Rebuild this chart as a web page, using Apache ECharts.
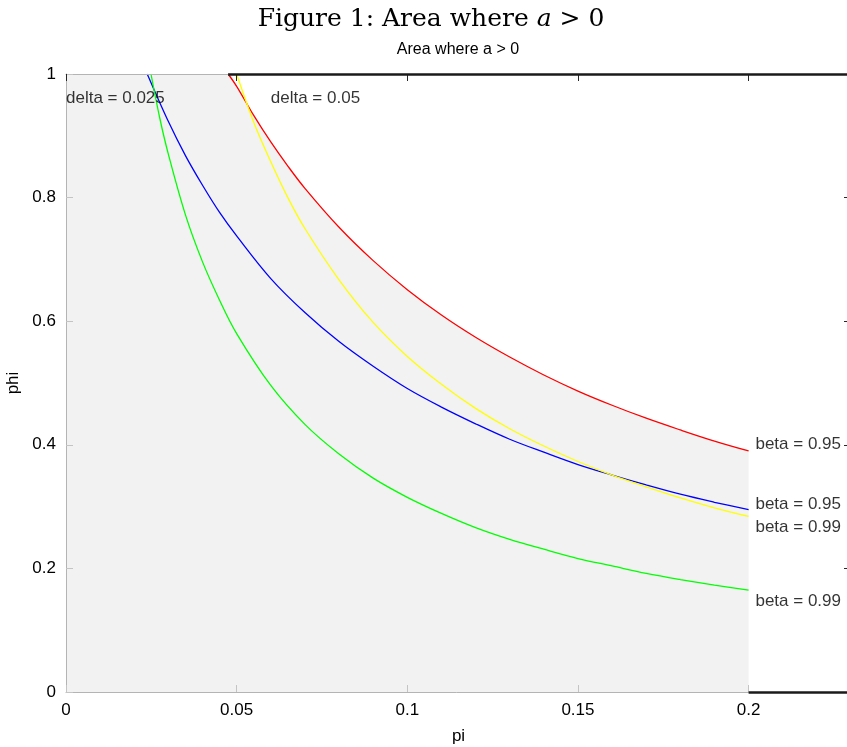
<!DOCTYPE html>
<html>
<head>
<meta charset="utf-8">
<script src="https://cdn.jsdelivr.net/npm/echarts@6/dist/echarts.min.js"></script>
<style>
  html, body { margin: 0; padding: 0; background: #fff; }
  #main { width: 847px; height: 747px; }
</style>
</head>
<body>
<div id="main"></div>
<script>
var dom = document.getElementById('main');
var myChart = echarts.init(dom, null, { renderer: 'canvas' });

// pi values and phi values, one pair of arrays per curve
var redX = [0.0475, 0.05, 0.055, 0.06, 0.065, 0.07, 0.08, 0.09, 0.10, 0.11, 0.12, 0.13, 0.14, 0.15, 0.16, 0.17, 0.18, 0.19, 0.20];
var redY = [1.0, 0.980, 0.933, 0.890, 0.851, 0.815, 0.752, 0.698, 0.651, 0.610, 0.574, 0.542, 0.513, 0.487, 0.464, 0.443, 0.424, 0.406, 0.390];

var blueX = [0.0238, 0.03, 0.035, 0.04, 0.045, 0.05, 0.06, 0.07, 0.08, 0.09, 0.10, 0.11, 0.12, 0.13, 0.14, 0.15, 0.16, 0.17, 0.18, 0.19, 0.20];
var blueY = [1.0, 0.923, 0.868, 0.820, 0.776, 0.738, 0.669, 0.614, 0.567, 0.527, 0.491, 0.461, 0.434, 0.409, 0.388, 0.368, 0.351, 0.335, 0.320, 0.307, 0.295];

var yellowX = [0.050, 0.055, 0.06, 0.065, 0.07, 0.08, 0.09, 0.10, 0.11, 0.12, 0.13, 0.14, 0.15, 0.16, 0.17, 0.18, 0.19, 0.20];
var yellowY = [1.0, 0.922, 0.858, 0.800, 0.750, 0.667, 0.598, 0.543, 0.498, 0.459, 0.426, 0.398, 0.373, 0.351, 0.332, 0.314, 0.298, 0.284];

var greenX = [0.0249, 0.0275, 0.03, 0.035, 0.04, 0.045, 0.05, 0.06, 0.07, 0.08, 0.09, 0.10, 0.11, 0.12, 0.13, 0.14, 0.15, 0.16, 0.17, 0.18, 0.19, 0.20];
var greenY = [1.0, 0.928, 0.870, 0.772, 0.696, 0.634, 0.580, 0.496, 0.433, 0.385, 0.346, 0.315, 0.289, 0.266, 0.247, 0.231, 0.216, 0.204, 0.192, 0.182, 0.173, 0.165];

// text annotations placed in data coordinates
var noteText = ['delta = 0.025', 'delta = 0.05', 'beta = 0.95', 'beta = 0.95', 'beta = 0.99', 'beta = 0.99'];
var noteX = [0, 0.06, 0.202, 0.202, 0.202, 0.202];
var noteY = [0.961, 0.961, 0.40, 0.304, 0.267, 0.146];

var xMax = 0.23;

function pairs(xs, ys) {
    return xs.map(function (x, i) { return [x, ys[i]]; });
}

var areaData = [[0, 1]].concat(pairs(redX, redY));
var noteData = noteText.map(function (t, i) {
    return { name: t, value: [noteX[i], noteY[i]] };
});

var txtFont = 'Arial, "Liberation Sans", sans-serif';
// the shaded patch washes out the frame, so the frame is light and only
// the uncovered parts are redrawn dark
var frame = { show: true, onZero: false, lineStyle: { color: '#b4b4b4', width: 1 } };
var faintTick = { inside: true, length: 7, lineStyle: { color: '#c4c4c4' } };
var darkTick = { inside: true, length: 7, lineStyle: { color: '#262626' } };

function curve(data, color) {
    return {
        type: 'line',
        data: data,
        smooth: 0.35,
        symbol: 'none',
        silent: true,
        z: 3,
        lineStyle: { color: color, width: 1.3 }
    };
}

var option = {
    animation: false,
    graphic: [
        {
            type: 'text', x: 431, y: 19,
            style: {
                text: 'Figure 1: Area where {i|a} > 0',
                font: '25px "DejaVu Serif", serif',
                fill: '#000',
                textAlign: 'center',
                textVerticalAlign: 'middle',
                rich: { i: { fontStyle: 'italic', fontFamily: '"DejaVu Serif", serif', fontSize: 25 } }
            }
        },
        {
            type: 'text', x: 458, y: 50,
            style: {
                text: 'Area where a > 0',
                font: '16px ' + txtFont,
                fill: '#000',
                textAlign: 'center',
                textVerticalAlign: 'middle'
            }
        }
    ],
    grid: { left: 66, right: -4, top: 74, bottom: 55, outerBoundsMode: 'none', containLabel: false },
    xAxis: [
        {
            type: 'value', min: 0, max: xMax, interval: 0.05, z: 5,
            name: 'pi', nameLocation: 'middle', nameGap: 36,
            nameTextStyle: { fontSize: 17, fontFamily: txtFont, color: '#000' },
            axisLine: frame,
            axisTick: faintTick,
            axisLabel: { fontSize: 17, fontFamily: txtFont, color: '#000', margin: 10, showMaxLabel: false },
            splitLine: { show: false }
        },
        {
            type: 'value', min: 0, max: xMax, interval: 0.05, position: 'top', z: 5,
            axisLine: frame,
            axisTick: darkTick,
            axisLabel: { show: false },
            splitLine: { show: false }
        }
    ],
    yAxis: [
        {
            type: 'value', min: 0, max: 1, interval: 0.2, z: 5,
            name: 'phi', nameLocation: 'middle', nameGap: 40, nameRotate: 90,
            nameTextStyle: { fontSize: 17, fontFamily: txtFont, color: '#000' },
            axisLine: frame,
            axisTick: faintTick,
            axisLabel: { fontSize: 17, fontFamily: txtFont, color: '#000', margin: 10 },
            splitLine: { show: false }
        },
        {
            type: 'value', min: 0, max: 1, interval: 0.2, position: 'right', z: 5,
            axisLine: frame,
            axisTick: darkTick,
            axisLabel: { show: false },
            splitLine: { show: false }
        }
    ],
    series: [
        {
            type: 'line',
            data: areaData,
            smooth: 0.35,
            symbol: 'none',
            silent: true,
            z: 1,
            lineStyle: { width: 0 },
            areaStyle: { color: '#f2f2f2', opacity: 1 }
        },
        curve(pairs(redX, redY), '#ff0000'),
        curve(pairs(blueX, blueY), '#0000ff'),
        curve(pairs(yellowX, yellowY), '#ffff00'),
        curve(pairs(greenX, greenY), '#00ff00'),
        {
            type: 'scatter',
            data: noteData,
            symbolSize: 0,
            silent: true,
            clip: false,
            z: 6,
            label: {
                show: true,
                position: 'right',
                distance: 0,
                formatter: '{b}',
                fontSize: 17,
                fontFamily: txtFont,
                color: '#000'
            },
            markLine: {
                silent: true,
                symbol: 'none',
                z: 6,
                label: { show: false },
                lineStyle: { color: '#1a1a1a', width: 2.5, type: 'solid', opacity: 1 },
                data: [
                    [{ coord: [redX[0], 1] }, { coord: [xMax, 1] }],
                    [{ coord: [0.2, 0] }, { coord: [xMax, 0] }]
                ]
            }
        }
    ]
};

myChart.setOption(option);
window.addEventListener('resize', myChart.resize);
</script>
</body>
</html>
